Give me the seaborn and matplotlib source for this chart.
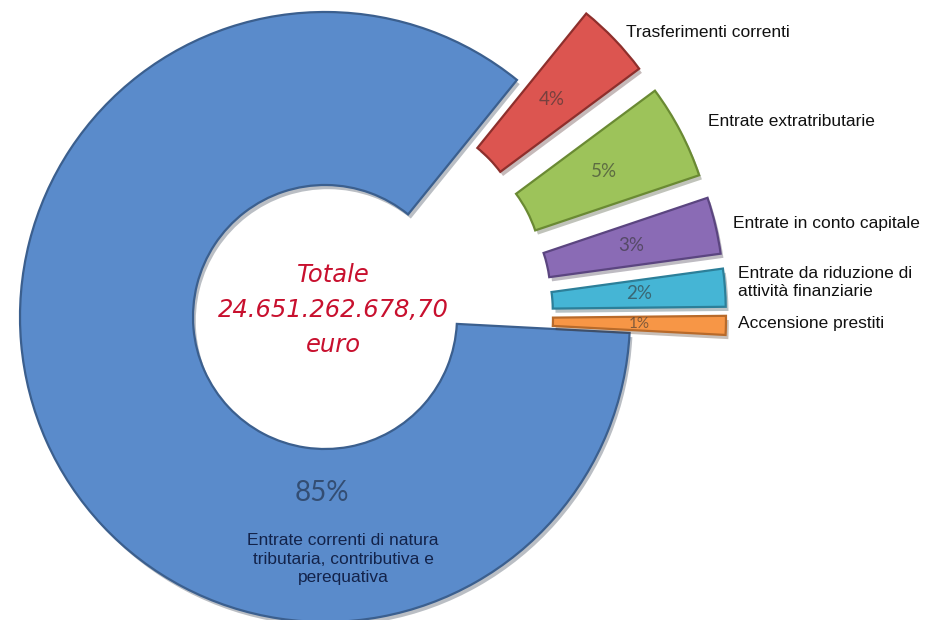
import matplotlib
matplotlib.use("Agg")
import matplotlib.pyplot as plt
import matplotlib.patheffects as pe
import numpy as np
import seaborn as sns

# data
categories = [
    "Entrate correnti di natura\ntributaria, contributiva e\nperequativa",
    "Trasferimenti correnti",
    "Entrate extratributarie",
    "Entrate in conto capitale",
    "Entrate da riduzione di\nattività finanziarie",
    "Accensione prestiti",
]
shares = [85, 4, 5, 3, 2, 1]
total_text = "Totale\n24.651.262.678,70\neuro"

# styling
colors = ["#5A8BCB", "#DC5550", "#9DC35A", "#8A6BB5", "#45B5D5", "#F79646"]
edges = ["#3B5F8E", "#8E2F2C", "#6A8A33", "#5B4580", "#2C7F99", "#B86A2A"]
label_offsets = [(12, 7), (28, 10), (18, 2), (13, 5), (12, 2)]

sns.set_theme(style="white")
plt.rcParams['font.family'] = ['Liberation Sans', 'DejaVu Sans']

W, H = 927, 620
fig = plt.figure(figsize=(W / 100, H / 100), dpi=100)
ax = fig.add_axes([0, 0, 1, 1])

cx, cy = 325, H - 317
R, ring = 305, 173
# pie's explode is in data units here (pixels)
explode = [0, 96, 96, 96, 96, 96]

wedges, _ = ax.pie(shares, radius=R, center=(cx, cy), startangle=-3,
                   counterclock=False, explode=explode, colors=colors,
                   wedgeprops=dict(width=ring, linewidth=1.6))

for w, ec in zip(wedges, edges):
    w.set_edgecolor(ec)
    w.set_path_effects([pe.withSimplePatchShadow(offset=(2, -3), alpha=0.3)])

ax.set_xlim(0, W)
ax.set_ylim(0, H)
ax.set_aspect('equal')
ax.axis('off')

# percentages and labels
for i, (w, v) in enumerate(zip(wedges, shares)):
    wx, wy = w.center
    if i == 0:
        ax.text(cx - 3, cy - 176, f"{v}%", ha='center', va='center',
                fontsize=20, color='#1f2d44', alpha=0.65, family='Lato')
        ax.text(cx + 18, cy - 242, categories[i], ha='center', va='center',
                fontsize=12.5, color='#13234a', linespacing=1.3)
        continue
    mid = np.deg2rad((w.theta1 + w.theta2) / 2)
    rm = R - ring / 2
    ax.text(wx + rm * np.cos(mid), wy + rm * np.sin(mid), f"{v}%",
            ha='center', va='center', fontsize=13.5 if v > 1 else 11,
            color='#333333', alpha=0.6, family='Lato')
    dx, dy = label_offsets[i - 1]
    ax.text(wx + R * np.cos(mid) + dx, wy + R * np.sin(mid) + dy, categories[i],
            ha='left', va='center', fontsize=12.5, color='#111111', linespacing=1.3)

ax.text(cx + 8, cy + 7, total_text, ha='center', va='center', fontsize=17.5,
        color='#C8102E', style='italic', linespacing=1.6, family='DejaVu Sans')

fig.savefig("out.png", dpi=100)
